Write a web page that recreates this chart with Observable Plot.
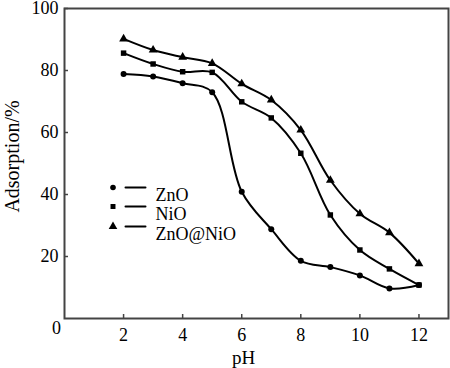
<!DOCTYPE html>
<html><head><meta charset="utf-8">
<script src="https://cdn.jsdelivr.net/npm/d3@7"></script>
<script src="https://cdn.jsdelivr.net/npm/@observablehq/plot@0.6"></script>
<style>body{margin:0;background:#fff}#chart{position:relative;width:450px;height:368px}</style>
</head><body><div id="chart"></div>
<script>
const pH = [2,3,4,5,6,7,8,9,10,11,12];
const zno = [78.9,78.1,75.9,73.0,40.9,28.8,18.6,16.6,13.9,9.7,10.8];
const nio = [85.6,82.1,79.6,79.4,69.9,64.7,53.3,33.4,22.1,16.0,10.8];
const znonio = [90.2,86.6,84.3,82.3,75.7,70.5,60.8,44.6,33.8,27.7,17.7];
const seriesNames = ["ZnO","NiO","ZnO@NiO"];
const symbols = ["circle","square","triangle"];
const xTicks = [2,4,6,8,10,12];
const yTicks = [20,40,60,80,100];

const table = [];
[zno,nio,znonio].forEach((vals,s)=>vals.forEach((v,i)=>table.push({pH:pH[i],v,s:seriesNames[s],sym:symbols[s]})));

const font = "Liberation Serif, Times New Roman, serif";
const legendRows = seriesNames.map((n,i)=>({n,sym:symbols[i],dy:[179,198,218][i]}));
const segment = {draw(context, l){ context.moveTo(0,0); context.lineTo(0,-l); }};

const marks = [
  Plot.frame({stroke:"#444",strokeWidth:2}),
  Plot.axisX(xTicks,{tickSize:-4,tickPadding:14,stroke:"#444",strokeWidth:1.5,fontSize:18,fill:"#000",label:null}),
  Plot.axisY(yTicks,{tickSize:-4,tickPadding:10,stroke:"#444",strokeWidth:1.5,fontSize:18,fill:"#000",label:null}),
  Plot.text([{x:0,y:0}],{x:"x",y:"y",text:()=>"0",dx:-8,dy:10,fontSize:18,fill:"#000"}),
  ...seriesNames.map(n=>Plot.line(table.filter(d=>d.s===n),{x:"pH",y:"v",curve:"catmull-rom",stroke:"#000",strokeWidth:2})),
  Plot.dot(table,{x:"pH",y:"v",symbol:"sym",r:d=>d.sym==="circle"?3.8:(d.sym==="square"?4:4.5),fill:"#000",stroke:"none"}),
  ...legendRows.flatMap(row=>[
    Plot.dot([row],{frameAnchor:"top-left",dx:48.5,dy:row.dy,symbol:"sym",r:row.sym==="circle"?2.8:(row.sym==="square"?2.8:3.2),fill:"#000"}),
    Plot.vector([row],{frameAnchor:"top-left",dx:61,dy:row.dy,rotate:90,length:20,anchor:"start",shape:segment,stroke:"#000",strokeWidth:2}),
    Plot.text([row],{frameAnchor:"top-left",dx:91,dy:row.dy+1,text:"n",fontSize:18,textAnchor:"start",fill:"#000"})
  ]),
  Plot.text(["pH"],{frameAnchor:"bottom",dx:-13,dy:45,text:d=>d,fontSize:19,fill:"#000"}),
  Plot.text(["Adsorption/%"],{frameAnchor:"left",textAnchor:"middle",dx:-52,dy:-7,rotate:-90,text:d=>d,fontSize:20,fill:"#000"})
];

const chart = Plot.plot({
  width:450,height:368,
  marginLeft:64,marginRight:2,marginTop:8,marginBottom:50,
  style:{fontFamily:font,fontSize:"18px",color:"#000",background:"#fff"},
  x:{domain:[0,13]},
  y:{domain:[0,100]},
  symbol:{type:"identity"},
  marks
});
document.getElementById("chart").appendChild(chart);
</script></body></html>
